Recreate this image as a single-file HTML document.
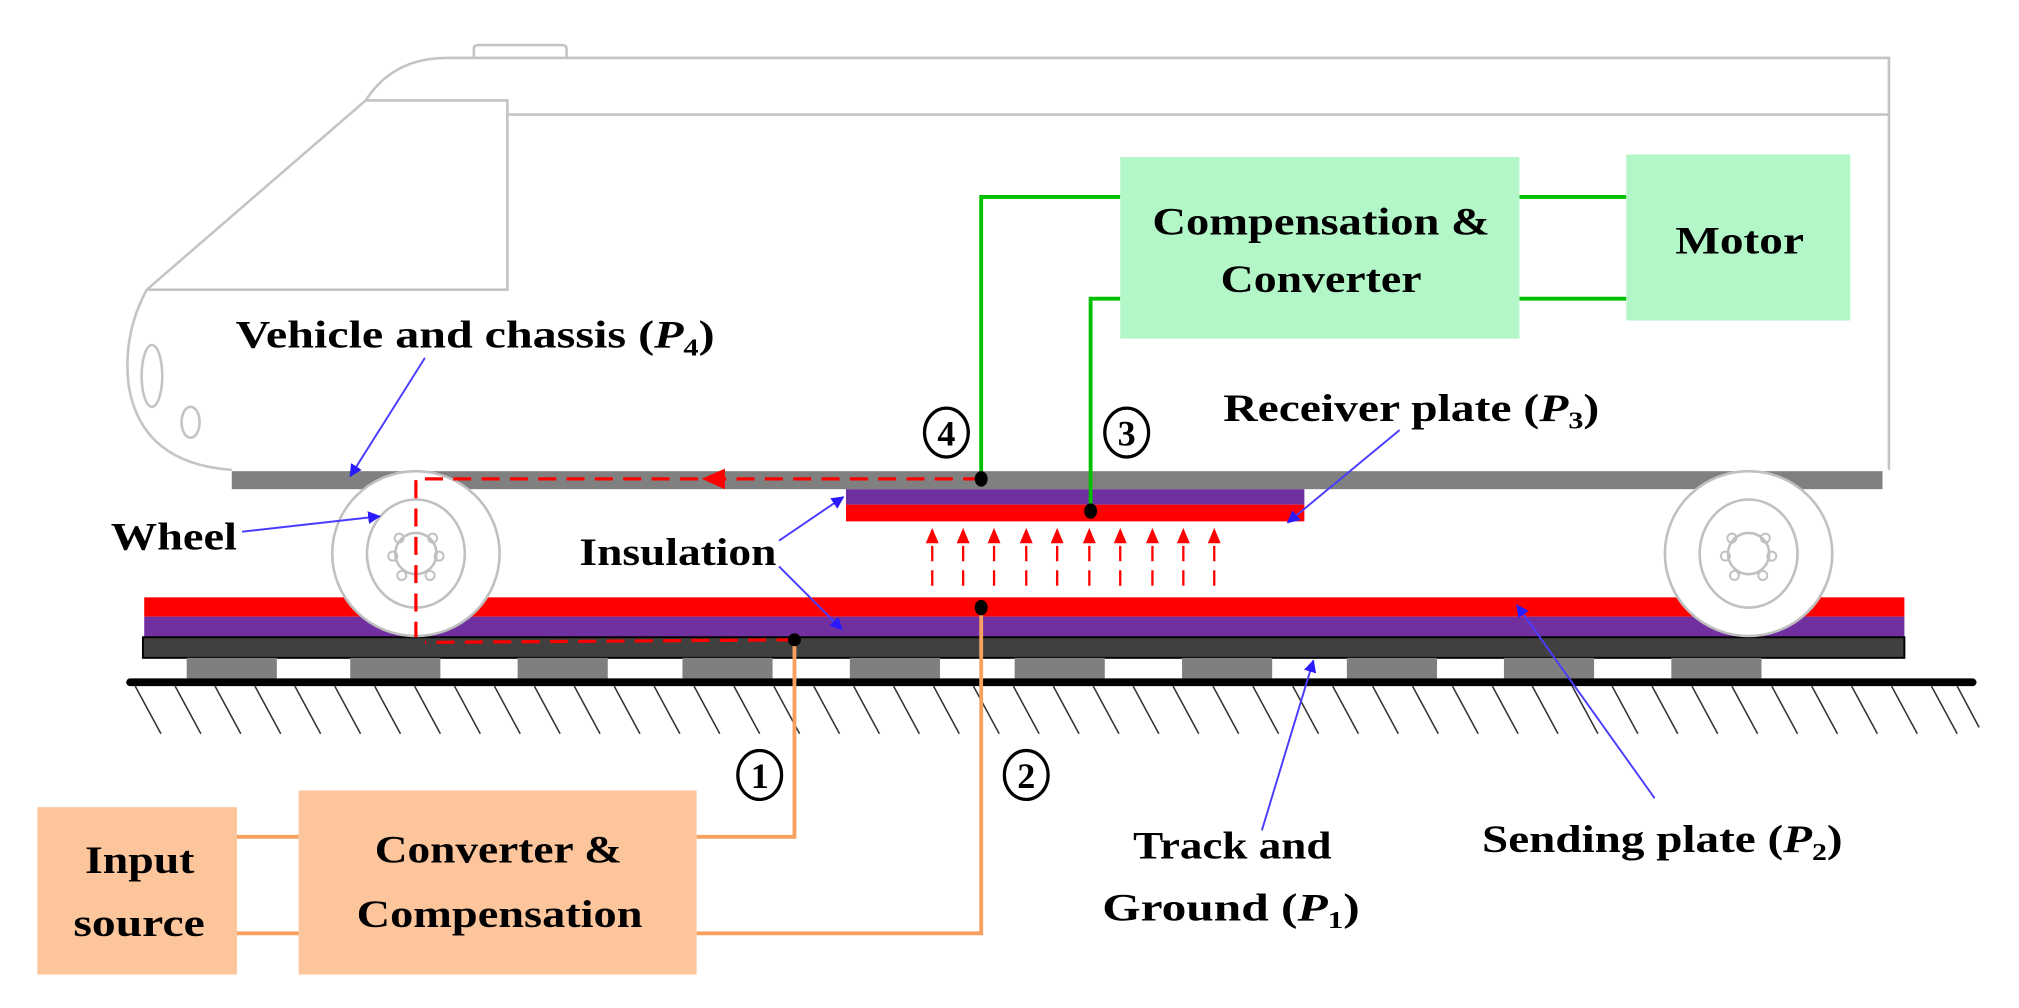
<!DOCTYPE html>
<html><head><meta charset="utf-8"><style>
html,body{margin:0;padding:0;background:#fff;}
svg{display:block;}
text{font-family:"Liberation Serif",serif;font-weight:bold;fill:#000;}
</style></head><body>
<svg width="2019" height="1008" viewBox="0 0 1568 783" preserveAspectRatio="none" xmlns="http://www.w3.org/2000/svg">
<defs>
<marker id="bl" markerWidth="10" markerHeight="10" refX="9" refY="5" orient="auto" markerUnits="userSpaceOnUse"><path d="M0,0 L10,5 L0,10 z" fill="#2a1aff" transform="scale(1.4) translate(-3,-1.4)"/></marker>
</defs>
<!-- train body -->
<g fill="none" stroke="#c4c4c4" stroke-width="2">
<path d="M1467,365 L1467,45 L347,45 Q305,45 284,78 L114,225 Q95,260 100,300 Q110,360 180,365"/>
<path d="M284,78 L394,78 L394,225 L114,225"/>
<path d="M394,89 L1467,89"/>
<path d="M368,45 L368,38 Q368,35 372,35 L436,35 Q440,35 440,38 L440,45"/>
<ellipse cx="118" cy="292" rx="8" ry="24"/>
<ellipse cx="148" cy="328" rx="7" ry="12"/>
</g>
<!-- chassis -->
<rect x="180" y="366" width="1282" height="14" fill="#808080"/>
<!-- sending plate / track -->
<rect x="112" y="464" width="1367" height="15" fill="#ff0000"/>
<rect x="112" y="479" width="1367" height="16" fill="#7030a0"/>
<rect x="111" y="495" width="1368" height="16" fill="#404040" stroke="#000" stroke-width="1.5"/>
<g fill="#7f7f7f">
<rect x="145" y="511" width="70" height="16"/><rect x="272" y="511" width="70" height="16"/><rect x="402" y="511" width="70" height="16"/><rect x="530" y="511" width="70" height="16"/><rect x="660" y="511" width="70" height="16"/><rect x="788" y="511" width="70" height="16"/><rect x="918" y="511" width="70" height="16"/><rect x="1046" y="511" width="70" height="16"/><rect x="1168" y="511" width="70" height="16"/><rect x="1298" y="511" width="70" height="16"/>
</g>
<line x1="101" y1="530" x2="1532" y2="530" stroke="#000" stroke-width="6" stroke-linecap="round"/>
<g stroke="#333" stroke-width="1.2">
<path d="M105,533 L125,570 M136,533 L156,570 M167,533 L187,570 M198,533 L218,570 M229,533 L249,570 M260,533 L280,570 M291,533 L311,570 M322,533 L342,570 M353,533 L373,570 M384,533 L404,570 M415,533 L435,570 M446,533 L466,570 M477,533 L497,570 M508,533 L528,570 M539,533 L559,570 M570,533 L590,570 M601,533 L621,570 M632,533 L652,570 M663,533 L683,570 M694,533 L714,570 M725,533 L745,570 M756,533 L776,570 M787,533 L807,570 M818,533 L838,570 M849,533 L869,570 M880,533 L900,570 M911,533 L931,570 M942,533 L962,570 M973,533 L993,570 M1004,533 L1024,570 M1035,533 L1055,570 M1066,533 L1086,570 M1097,533 L1117,570 M1128,533 L1148,570 M1159,533 L1179,570 M1190,533 L1210,570 M1221,533 L1241,570 M1252,533 L1272,570 M1283,533 L1303,570 M1314,533 L1334,570 M1345,533 L1365,570 M1376,533 L1396,570 M1407,533 L1427,570 M1438,533 L1458,570 M1469,533 L1489,570 M1500,533 L1520,570 M1520,533 L1537,565"/>
</g>
<!-- receiver plate -->
<rect x="657" y="380" width="356" height="12" fill="#7030a0"/>
<rect x="657" y="392" width="356" height="13" fill="#ff0000"/>
<!-- wheels -->
<g fill="#fff" stroke="#c0c0c0" stroke-width="2">
<ellipse cx="323" cy="430" rx="65" ry="64"/>
<ellipse cx="323" cy="430" rx="38" ry="42"/>
<circle cx="323" cy="430" r="16" fill="none"/>
<ellipse cx="1358" cy="430" rx="65" ry="64"/>
<ellipse cx="1358" cy="430" rx="38" ry="42"/>
<circle cx="1358" cy="430" r="16" fill="none"/>
</g>
<g fill="none" stroke="#c0c0c0" stroke-width="1.5">
<circle cx="310" cy="418" r="3.5"/><circle cx="336" cy="418" r="3.5"/><circle cx="305" cy="432" r="3.5"/><circle cx="341" cy="432" r="3.5"/><circle cx="312" cy="447" r="3.5"/><circle cx="334" cy="447" r="3.5"/>
<circle cx="1345" cy="418" r="3.5"/><circle cx="1371" cy="418" r="3.5"/><circle cx="1340" cy="432" r="3.5"/><circle cx="1376" cy="432" r="3.5"/><circle cx="1347" cy="447" r="3.5"/><circle cx="1369" cy="447" r="3.5"/>
</g>
<!-- red dashed current path -->
<g stroke="#ff0000" stroke-width="2.5" fill="none" stroke-dasharray="14,8">
<path d="M762,372 L323,372 L323,495"/>
<path d="M617,497 L330,499"/>
</g>
<path d="M545,372 L563,364 L563,380 z" fill="#ff0000"/>
<!-- field arrows -->
<g stroke="#ff0000" stroke-width="1.8" stroke-dasharray="12,7">
<line x1="724" y1="455" x2="724" y2="420"/><line x1="748" y1="455" x2="748" y2="420"/><line x1="772" y1="455" x2="772" y2="420"/><line x1="797" y1="455" x2="797" y2="420"/><line x1="821" y1="455" x2="821" y2="420"/><line x1="846" y1="455" x2="846" y2="420"/><line x1="870" y1="455" x2="870" y2="420"/><line x1="895" y1="455" x2="895" y2="420"/><line x1="919" y1="455" x2="919" y2="420"/><line x1="943" y1="455" x2="943" y2="420"/>
</g>
<g fill="#ff0000">
<path d="M724,410 l-5,12 h10 z"/><path d="M748,410 l-5,12 h10 z"/><path d="M772,410 l-5,12 h10 z"/><path d="M797,410 l-5,12 h10 z"/><path d="M821,410 l-5,12 h10 z"/><path d="M846,410 l-5,12 h10 z"/><path d="M870,410 l-5,12 h10 z"/><path d="M895,410 l-5,12 h10 z"/><path d="M919,410 l-5,12 h10 z"/><path d="M943,410 l-5,12 h10 z"/>
</g>
<!-- green wires -->
<g stroke="#00c000" stroke-width="3" fill="none">
<path d="M762,372 L762,153 L870,153"/>
<path d="M847,397 L847,232 L870,232"/>
<path d="M1180,153 L1263,153"/>
<path d="M1180,232 L1263,232"/>
</g>
<rect x="870" y="122" width="310" height="141" fill="#b3f7c9"/>
<rect x="1263" y="120" width="174" height="129" fill="#b3f7c9"/>
<!-- orange wires -->
<g stroke="#f8a060" stroke-width="3" fill="none">
<path d="M184,650 L232,650"/>
<path d="M184,725 L232,725"/>
<path d="M541,650 L617,650 L617,497"/>
<path d="M541,725 L762,725 L762,472"/>
</g>
<rect x="29" y="627" width="155" height="130" fill="#fcc59c"/>
<rect x="232" y="614" width="309" height="143" fill="#fcc59c"/>
<!-- dots -->
<g fill="#000">
<ellipse cx="762" cy="372" rx="5" ry="6"/><ellipse cx="847" cy="397" rx="5" ry="6"/><ellipse cx="762" cy="472" rx="5" ry="6"/><ellipse cx="617" cy="497" rx="5" ry="5"/>
</g>
<!-- blue arrows -->
<g stroke="#4a3cff" stroke-width="1.5" fill="none" marker-end="url(#bl)">
<line x1="330" y1="278" x2="272" y2="370"/>
<line x1="188" y1="413" x2="295" y2="401"/>
<line x1="605" y1="420" x2="655" y2="386"/>
<line x1="605" y1="440" x2="654" y2="489"/>
<line x1="1087" y1="334" x2="1000" y2="406"/>
<line x1="1285" y1="620" x2="1178" y2="470"/>
<line x1="980" y1="645" x2="1020" y2="513"/>
</g>
<!-- labels -->
<g font-size="30">
<text x="183" y="270" textLength="372" lengthAdjust="spacingAndGlyphs">Vehicle and chassis (<tspan font-style="italic">P</tspan><tspan font-size="19" dy="6">4</tspan><tspan dy="-6">)</tspan></text>
<text x="950" y="327" textLength="292" lengthAdjust="spacingAndGlyphs">Receiver plate (<tspan font-style="italic">P</tspan><tspan font-size="19" dy="6">3</tspan><tspan dy="-6">)</tspan></text>
<text x="86" y="427" textLength="98" lengthAdjust="spacingAndGlyphs">Wheel</text>
<text x="450" y="439" textLength="153" lengthAdjust="spacingAndGlyphs">Insulation</text>
<text x="895" y="182" textLength="262" lengthAdjust="spacingAndGlyphs">Compensation &amp;</text>
<text x="948" y="227" textLength="156" lengthAdjust="spacingAndGlyphs">Converter</text>
<text x="1301" y="197" textLength="100" lengthAdjust="spacingAndGlyphs">Motor</text>
<text x="66" y="678" textLength="85" lengthAdjust="spacingAndGlyphs">Input</text>
<text x="57" y="727" textLength="102" lengthAdjust="spacingAndGlyphs">source</text>
<text x="291" y="670" textLength="192" lengthAdjust="spacingAndGlyphs">Converter &amp;</text>
<text x="277" y="720" textLength="222" lengthAdjust="spacingAndGlyphs">Compensation</text>
<text x="880" y="667" textLength="154" lengthAdjust="spacingAndGlyphs">Track and</text>
<text x="856" y="715" textLength="200" lengthAdjust="spacingAndGlyphs">Ground  (<tspan font-style="italic">P</tspan><tspan font-size="19" dy="6">1</tspan><tspan dy="-6">)</tspan></text>
<text x="1151" y="662" textLength="280" lengthAdjust="spacingAndGlyphs">Sending plate (<tspan font-style="italic">P</tspan><tspan font-size="19" dy="6">2</tspan><tspan dy="-6">)</tspan></text>
</g>
<g fill="none" stroke="#000" stroke-width="2.5">
<ellipse cx="590" cy="602" rx="17" ry="19"/><ellipse cx="797" cy="602" rx="17" ry="19"/><ellipse cx="735" cy="336" rx="17" ry="19"/><ellipse cx="875" cy="336" rx="17" ry="19"/>
</g>
<g font-size="28" text-anchor="middle">
<text x="590" y="612">1</text><text x="797" y="612">2</text><text x="735" y="346">4</text><text x="875" y="346">3</text>
</g>
</svg>
</body></html>
